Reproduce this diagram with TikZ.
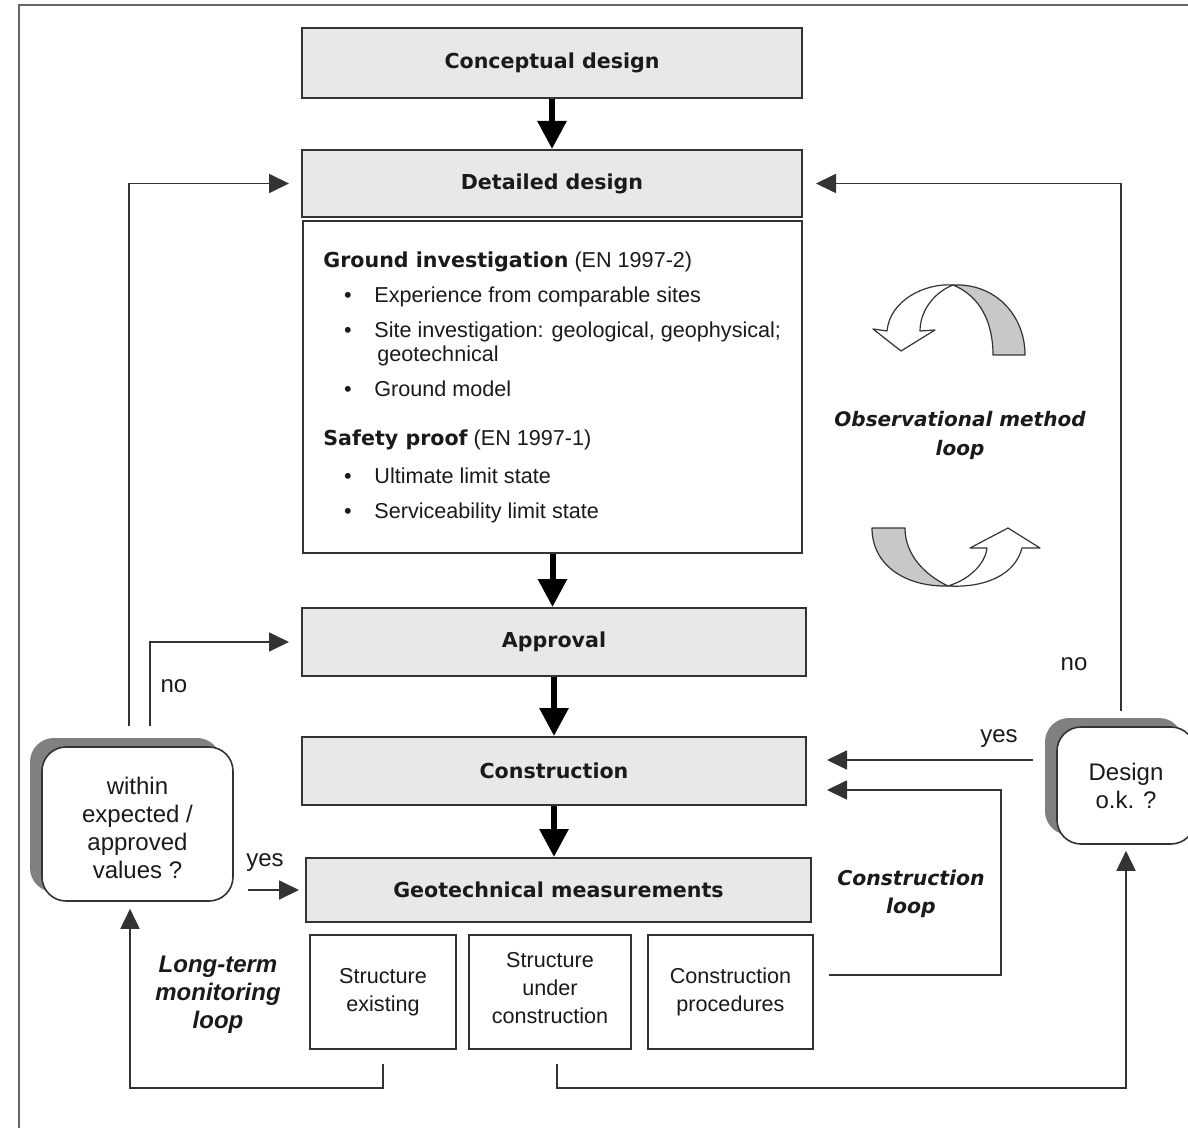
\documentclass[tikz,border=0pt]{standalone}
\usepackage{fontspec}
\setmainfont{Liberation Sans}
\newfontfamily\verd{DejaVu Sans}
\usetikzlibrary{arrows.meta,shadows}
\definecolor{boxgray}{HTML}{E8E8E8}
\definecolor{ln}{HTML}{333333}
\definecolor{txt}{HTML}{1A1A1A}
\definecolor{shadowgray}{HTML}{808080}
\definecolor{ribbon}{HTML}{C8C8C8}
\definecolor{framegray}{HTML}{666666}
\newcommand\rtfont{\fontsize{10.8}{14}\selectfont}
\newcommand\hdfont{\verd\bfseries\fontsize{10.3}{12}\selectfont}
\newcommand\stackc[2]{\raisebox{#1}[\height][\depth]{\begin{tabular}{@{}c@{}}#2\end{tabular}}}
\begin{document}
\begin{tikzpicture}[x=0.5pt,y=-0.5pt,
  every node/.style={text=txt},
  graybox/.style={draw=ln, line width=1pt, fill=boxgray, inner sep=0pt, font=\hdfont},
  whitebox/.style={draw=ln, line width=1pt, fill=white, inner sep=0pt, align=center, font=\fontsize{10.8}{14}\selectfont},
  decision/.style={draw=ln, line width=0.8pt, fill=white, rounded corners=12pt, inner sep=0pt, align=center,
    font=\fontsize{12}{14}\selectfont,
    general shadow={fill=shadowgray, shadow xshift=-6pt, shadow yshift=4.5pt}},
  bigarrow/.style={draw=black, line width=3pt, -{Triangle[length=14pt,width=14pt]}},
  arr/.style={draw=ln, line width=0.9pt, -{Triangle[length=10pt,width=9.5pt]}},
  lbl/.style={inner sep=0pt, font=\fontsize{12}{14}\selectfont},
  txtline/.style={anchor=base west, inner sep=0pt, font=\rtfont},
  bul/.style={anchor=base, inner sep=0pt, font=\rtfont},
  loopname/.style={inner sep=0pt, align=center, font=\verd\bfseries\itshape\fontsize{10}{14.5}\selectfont},
  ribbonline/.style={draw=ln, line width=0.6pt, line join=round}
]
\useasboundingbox (0,0) rectangle (1188,1128);
\clip (0,0) rectangle (1188,1128);
\fill[white] (0,0) rectangle (1188,1128);

% outer frame
\draw[framegray, line width=1pt] (19,1128) -- (19,5) -- (1188,5);

% main column
\node[graybox, minimum width=250pt, minimum height=35pt] (concept) at (552,63) {Conceptual design};
\node[graybox, minimum width=250pt, minimum height=33.5pt] (detailed) at (552,183.5) {Detailed design};
\node[draw=ln, line width=1pt, fill=white, minimum width=249.5pt, minimum height=166pt, inner sep=0pt] (content) at (552.5,387) {};
\node[graybox, minimum width=252pt, minimum height=34pt] (approval) at (554,642) {Approval};
\node[graybox, minimum width=252pt, minimum height=34pt] (constr) at (554,771) {Construction};
\node[graybox, minimum width=252.5pt, minimum height=32pt] (geotech) at (558.5,890) {Geotechnical measurements};

% content text
\node[txtline] (gi) at (323,268) {{\hdfont Ground investigation} (EN 1997-2)};
\node[bul] (b1) at (348,303) {\textbullet};
\node[txtline] (t1) at (374,303) {Experience from comparable sites};
\node[bul] (b2) at (348,338) {\textbullet};
\node[txtline] (t2) at (374,338) {Site investigation: geological, geophysical;};
\node[txtline] (t2b) at (377,362) {geotechnical};
\node[bul] (b3) at (348,397) {\textbullet};
\node[txtline] (t3) at (374,397) {Ground model};
\node[txtline] (sp) at (323,445) {{\hdfont Safety proof} (EN 1997-1)};
\node[bul] (b4) at (348,483) {\textbullet};
\node[txtline] (t4) at (374,483) {Ultimate limit state};
\node[bul] (b5) at (348,518) {\textbullet};
\node[txtline] (t5) at (374,518) {Serviceability limit state};

% bottom boxes
\node[whitebox, minimum width=73pt, minimum height=57pt] (sexist) at (383,992) {Structure\\existing};
\node[whitebox, minimum width=81pt, minimum height=57pt] (sunder) at (550,992) {\stackc{1pt}{Structure\\under\\construction}};
\node[whitebox, minimum width=82.5pt, minimum height=57pt] (cproc) at (730.5,992) {Construction\\procedures};

% decision boxes
\node[decision, minimum width=95.5pt, minimum height=77pt] (within) at (137.5,824) {\stackc{-3.5pt}{within\\expected /\\approved\\values ?}};
\node[decision, minimum width=69pt, minimum height=58.5pt] (design) at (1126,785.5) {Design\\o.k. ?};

% thick arrows
\draw[bigarrow] (concept.south) -- (detailed.north);
\draw[bigarrow] (content.south) -- (content.south |- approval.north);
\draw[bigarrow] (approval.south) -- (constr.north);
\draw[bigarrow] (constr.south) -- (constr.south |- geotech.north);

% left loops
\draw[arr, shorten >=6pt] ([xshift=-4.25pt,yshift=10pt]within.north) |- (detailed.west);
\draw[arr, shorten >=6pt] ([xshift=6.25pt,yshift=10pt]within.north) |- (approval.west);
\draw[arr, shorten <=7pt, shorten >=3pt] (within.east |- geotech.west) -- (geotech.west);
\draw[arr, shorten <=7pt, shorten >=3.5pt] (sexist.south) -- ++(0,38) -| ([xshift=-3.75pt]within.south);

% right loops
\draw[arr, shorten <=7pt, shorten >=3pt] ([xshift=3.5pt]sunder.south) -- ++(0,38) -| (design.south);
\draw[arr, shorten <=7.5pt, shorten >=10pt] ([yshift=8.5pt]cproc.east) -- ++(187,0) |- ([yshift=-9.5pt]constr.east);
\draw[arr, shorten <=11.5pt, shorten >=10pt] ([yshift=12.75pt]design.west) -- ([yshift=5.5pt]constr.east);
\draw[arr, shorten >=6.5pt] ([xshift=-2.5pt,yshift=7.5pt]design.north) |- (detailed.east);

% labels
\node[lbl] (nol) at (174,686) {no};
\node[lbl] (yesl) at (265,863) {yes};
\node[lbl] (yesr) at (999,739) {yes};
\node[lbl] (nor) at (1074,664) {no};

\node[loopname] (obs) at (960,435) {Observational method\\loop};
\node[loopname, font=\verd\bfseries\itshape\fontsize{10.2}{14}\selectfont] (cloop) at (911,894) {Construction\\loop};
\node[inner sep=0pt, align=center, font=\bfseries\itshape\fontsize{12}{14}\selectfont] (ltloop) at (218,995) {Long-term\\monitoring\\loop};

% observational ribbons (top)
\filldraw[ribbonline, fill=ribbon] (953,285) .. controls (995,283) and (1025,315) .. (1025,355)
  -- (993,355) .. controls (993,322) and (980,296) .. (953,285) -- cycle;
\filldraw[ribbonline, fill=white] (953,285) .. controls (925,283) and (890,300) .. (887,331)
  -- (873,329) -- (901,351) -- (935,330) -- (920,331)
  .. controls (920,310) and (935,292) .. (953,285) -- cycle;
% observational ribbons (bottom)
\filldraw[ribbonline, fill=ribbon] (872,528) -- (905,528) .. controls (905,555) and (925,575) .. (948,586)
  .. controls (905,587) and (872,565) .. (872,528) -- cycle;
\filldraw[ribbonline, fill=white] (948,586) .. controls (985,588) and (1015,575) .. (1022,548)
  -- (1040,548) -- (1008,528) -- (970,548) -- (987,548)
  .. controls (985,565) and (968,580) .. (948,586) -- cycle;
\end{tikzpicture}
\end{document}
